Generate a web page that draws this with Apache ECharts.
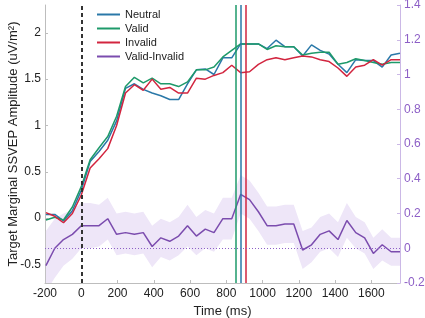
<!DOCTYPE html>
<html>
<head>
<meta charset="utf-8">
<script src="https://cdn.jsdelivr.net/npm/echarts@6/dist/echarts.min.js"></script>
<style>
html, body { margin: 0; padding: 0; background: #fff; }
#chart { width: 425px; height: 318px; }
</style>
</head>
<body>
<div id="chart"></div>
<script>
// time points (ms)
const times = [-195, -146, -98, -49, 0, 49, 98, 146, 195, 244, 293, 342, 391, 439, 488, 537, 586, 635, 684, 732,
  781, 830, 879, 928, 977, 1025, 1074, 1123, 1172, 1221, 1270, 1318, 1367, 1416, 1465, 1514, 1563, 1611, 1660, 1709, 1758];

// left axis (uV/m2)
const neutral = [0.04, 0.04, -0.03, 0.08, 0.30, 0.61, 0.72, 0.84, 1.05, 1.40, 1.45, 1.39, 1.35, 1.32, 1.28, 1.28, 1.45, 1.60, 1.61, 1.55,
  1.73, 1.73, 1.88, 1.88, 1.88, 1.83, 1.92, 1.85, 1.85, 1.75, 1.87, 1.81, 1.77, 1.66, 1.57, 1.71, 1.70, 1.70, 1.63, 1.76, 1.78];
const valid = [-0.02, 0.01, -0.02, 0.12, 0.34, 0.63, 0.76, 0.88, 1.10, 1.42, 1.52, 1.46, 1.51, 1.45, 1.45, 1.42, 1.47, 1.60, 1.60, 1.63,
  1.74, 1.81, 1.88, 1.88, 1.88, 1.82, 1.86, 1.85, 1.85, 1.76, 1.78, 1.79, 1.79, 1.66, 1.68, 1.72, 1.70, 1.68, 1.66, 1.68, 1.68];
const invalid = [0.06, 0.02, -0.05, 0.05, 0.25, 0.54, 0.64, 0.75, 1.00, 1.35, 1.44, 1.38, 1.50, 1.39, 1.41, 1.35, 1.35, 1.51, 1.50, 1.54,
  1.57, 1.65, 1.57, 1.58, 1.66, 1.71, 1.73, 1.71, 1.73, 1.75, 1.74, 1.71, 1.69, 1.62, 1.53, 1.63, 1.65, 1.71, 1.65, 1.71, 1.71];

// right axis: difference and its band
const diff = [-0.10, 0.00, 0.05, 0.08, 0.13, 0.13, 0.13, 0.17, 0.08, 0.09, 0.08, 0.09, 0.01, 0.06, 0.04, 0.07, 0.13, 0.07, 0.11, 0.09,
  0.17, 0.17, 0.31, 0.28, 0.21, 0.13, 0.13, 0.14, 0.14, -0.01, 0.02, 0.08, 0.10, 0.05, 0.16, 0.09, 0.06, -0.03, 0.02, -0.02, -0.02];
const diffLow = [-0.25, -0.17, -0.10, -0.06, 0.00, 0.00, 0.01, 0.05, -0.04, -0.03, -0.04, -0.03, -0.11, -0.05, -0.07, -0.04, 0.01, -0.04, 0.00, -0.02,
  0.05, 0.05, 0.20, 0.17, 0.10, 0.02, 0.02, 0.03, 0.03, -0.12, -0.08, -0.02, 0.00, -0.05, 0.06, 0.00, -0.03, -0.12, -0.07, -0.10, -0.10];
const diffHigh = [0.10, 0.17, 0.20, 0.22, 0.26, 0.26, 0.25, 0.29, 0.20, 0.21, 0.20, 0.21, 0.13, 0.17, 0.15, 0.18, 0.25, 0.18, 0.22, 0.20,
  0.29, 0.29, 0.42, 0.39, 0.32, 0.24, 0.24, 0.25, 0.25, 0.10, 0.12, 0.18, 0.20, 0.15, 0.26, 0.18, 0.15, 0.06, 0.11, 0.06, 0.06];

// peak times marked by vertical lines
const peakValid = 853;
const peakNeutral = 881;
const peakInvalid = 909;

const xTicks = [-200, 0, 200, 400, 600, 800, 1000, 1200, 1400, 1600];
const yLeftTicks = [-0.5, 0, 0.5, 1, 1.5, 2];
const yRightTicks = [-0.2, 0, 0.2, 0.4, 0.6, 0.8, 1, 1.2, 1.4];

const cBlue = '#2a78a8';
const cGreen = '#1e9a6a';
const cRed = '#d2253f';
const cPurple = '#7b4cae';
const font = 'Liberation Sans, Arial, sans-serif';

const pairs = arr => times.map((t, i) => [t, arr[i]]);

// shaded band drawn as one polygon through the axis scales
function renderBand(params, api) {
  if (params.dataIndex !== 0) return null;
  let pts = [];
  for (let i = 0; i < times.length; i++) pts.push(api.coord([times[i], diffHigh[i]]));
  for (let i = times.length - 1; i >= 0; i--) pts.push(api.coord([times[i], diffLow[i]]));
  return {
    type: 'polygon',
    shape: { points: pts },
    style: { fill: '#eee6f8' },
    silent: true
  };
}

let myChart = echarts.init(document.getElementById('chart'), null, { renderer: 'canvas' });
myChart.setOption({
  animation: false,
  textStyle: { fontFamily: font },
  grid: { left: 45, right: 25, top: 5, bottom: 35, outerBoundsMode: 'none', containLabel: false },
  legend: {
    data: ['Neutral', 'Valid', 'Invalid', 'Valid-Invalid'],
    orient: 'vertical',
    left: 92,
    top: 4,
    padding: 5,
    icon: 'rect',
    itemWidth: 23,
    itemHeight: 2,
    itemGap: 3,
    textStyle: { fontSize: 11, color: '#222', fontFamily: font, lineHeight: 11 }
  },
  xAxis: {
    type: 'value',
    min: -200,
    max: 1758,
    name: 'Time (ms)',
    nameLocation: 'middle',
    nameGap: 22,
    nameMoveOverlap: false,
    nameTextStyle: { fontSize: 13, color: '#222' },
    axisLine: { onZero: false, lineStyle: { color: '#bdbdbd' } },
    axisTick: { inside: true, length: 3, customValues: xTicks, lineStyle: { color: '#bdbdbd' } },
    axisLabel: { customValues: xTicks, fontSize: 12, color: '#222', margin: 5, formatter: v => String(v) },
    splitLine: { show: false }
  },
  yAxis: [
    {
      type: 'value',
      min: -0.7,
      max: 2.3,
      name: 'Target Marginal SSVEP Amplitude (uV/m²)',
      nameLocation: 'middle',
      nameGap: 25,
      nameMoveOverlap: false,
      nameTextStyle: { fontSize: 13, color: '#222' },
      axisLine: { show: true, onZero: false, lineStyle: { color: '#bdbdbd' } },
      axisTick: { show: true, inside: true, length: 3, customValues: yLeftTicks, lineStyle: { color: '#bdbdbd' } },
      axisLabel: { customValues: yLeftTicks, fontSize: 12, color: '#222', margin: 4, formatter: v => String(v) },
      splitLine: { show: false }
    },
    {
      type: 'value',
      position: 'right',
      min: -0.2,
      max: 1.4,
      axisLine: { show: true, onZero: false, lineStyle: { color: '#cbb8e6' } },
      axisTick: { show: true, inside: true, length: 3, customValues: yRightTicks, lineStyle: { color: '#cbb8e6' } },
      axisLabel: {
        customValues: yRightTicks, fontSize: 12, color: '#8d5fc6', margin: 4,
        formatter: v => String(Math.round(v * 10) / 10)
      },
      splitLine: { show: false }
    }
  ],
  series: [
    {
      name: 'band',
      type: 'custom',
      yAxisIndex: 1,
      data: pairs(diff),
      encode: { x: 0, y: 1 },
      renderItem: renderBand,
      clip: true,
      silent: true,
      z: 1
    },
    {
      name: 'Neutral',
      type: 'line',
      data: pairs(neutral),
      symbol: 'none',
      lineStyle: { color: cBlue, width: 1.5 },
      itemStyle: { color: cBlue },
      z: 3,
      markLine: {
        symbol: 'none', silent: true, label: { show: false },
        lineStyle: { color: cBlue, width: 1.5, type: 'solid' },
        data: [{ xAxis: peakNeutral }]
      }
    },
    {
      name: 'Valid',
      type: 'line',
      data: pairs(valid),
      symbol: 'none',
      lineStyle: { color: cGreen, width: 1.5 },
      itemStyle: { color: cGreen },
      z: 3,
      markLine: {
        symbol: 'none', silent: true, label: { show: false },
        lineStyle: { color: cGreen, width: 1.5, type: 'solid' },
        data: [{ xAxis: peakValid }]
      }
    },
    {
      name: 'Invalid',
      type: 'line',
      data: pairs(invalid),
      symbol: 'none',
      lineStyle: { color: cRed, width: 1.5 },
      itemStyle: { color: cRed },
      z: 3,
      markLine: {
        symbol: 'none', silent: true, label: { show: false },
        lineStyle: { color: cRed, width: 1.5, type: 'solid' },
        data: [{ xAxis: peakInvalid }]
      }
    },
    {
      name: 'Valid-Invalid',
      type: 'line',
      yAxisIndex: 1,
      data: pairs(diff),
      symbol: 'none',
      lineStyle: { color: cPurple, width: 1.5 },
      itemStyle: { color: cPurple },
      z: 3,
      markLine: {
        symbol: 'none', silent: true, label: { show: false },
        data: [
          { xAxis: 0, lineStyle: { color: '#333', width: 2, type: [4, 3] } },
          { yAxis: 0, lineStyle: { color: '#8d5fc6', width: 1, type: [1, 2] } }
        ]
      }
    }
  ]
});
</script>
</body>
</html>
